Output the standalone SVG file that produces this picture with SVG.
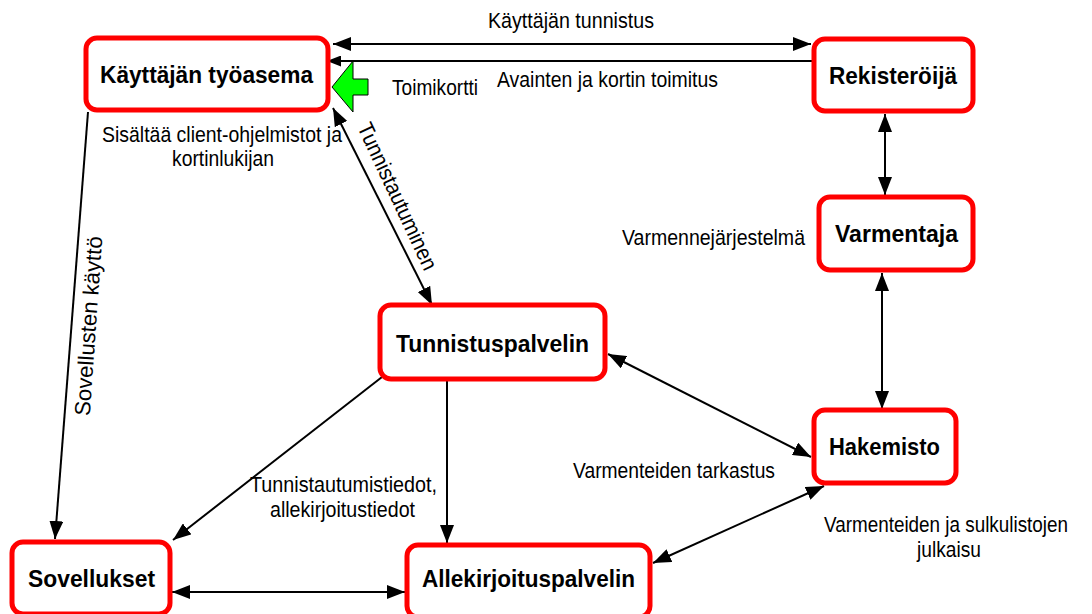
<svg xmlns="http://www.w3.org/2000/svg" width="1092" height="614" viewBox="0 0 1092 614">
<style>
.node rect{fill:#fff;stroke:#ff0000;stroke-width:5}
.node text{font-family:"Liberation Sans",Arial,sans-serif;font-weight:bold;font-size:24px;fill:#000;text-anchor:middle}
.lbl{font-family:"Liberation Sans",Arial,sans-serif;font-size:22px;fill:#000;text-anchor:middle}
.c{stroke:#000;stroke-width:2;fill:none}
</style>
<defs>
<marker id="ah" markerUnits="userSpaceOnUse" markerWidth="18" markerHeight="14" viewBox="0 0 18 14" refX="18" refY="7" orient="auto-start-reverse">
<path d="M0,0 L18,7 L0,14 z" fill="#000"/>
</marker>
<marker id="ahs" markerUnits="userSpaceOnUse" markerWidth="14" markerHeight="11" viewBox="0 0 14 11" refX="14" refY="5.5" orient="auto-start-reverse">
<path d="M0,0 L14,5.5 L0,11 z" fill="#000"/>
</marker>
</defs>
<rect width="1092" height="614" fill="#fff"/>
<g id="connectors">
<line class="c" x1="333" y1="44" x2="811" y2="44" marker-start="url(#ah)" marker-end="url(#ah)"/>
<line class="c" x1="812" y1="61" x2="327" y2="61" marker-end="url(#ahs)"/>
<polygon points="332,87 353,61 353,79 368,79 368,95 353,95 353,112" fill="#00ff00" stroke="#000" stroke-width="1"/>
<line class="c" x1="333" y1="108" x2="432" y2="305" marker-start="url(#ah)" marker-end="url(#ah)"/>
<line class="c" x1="88" y1="112" x2="55" y2="539" marker-end="url(#ah)"/>
<line class="c" x1="382" y1="377" x2="173" y2="540" marker-end="url(#ah)"/>
<line class="c" x1="447" y1="381" x2="447" y2="543" marker-end="url(#ah)"/>
<line class="c" x1="172" y1="592" x2="405" y2="592" marker-start="url(#ah)" marker-end="url(#ah)"/>
<line class="c" x1="608" y1="354" x2="811" y2="457" marker-start="url(#ah)" marker-end="url(#ah)"/>
<line class="c" x1="824" y1="486" x2="653" y2="563" marker-start="url(#ah)" marker-end="url(#ah)"/>
<line class="c" x1="885" y1="114" x2="885" y2="195" marker-start="url(#ah)" marker-end="url(#ah)"/>
<line class="c" x1="882" y1="273" x2="882" y2="409" marker-start="url(#ah)" marker-end="url(#ah)"/>
</g>
<g id="labels">
<text class="lbl" x="571" y="28" textLength="166" lengthAdjust="spacingAndGlyphs">Käyttäjän tunnistus</text>
<text class="lbl" x="607.5" y="87" textLength="221" lengthAdjust="spacingAndGlyphs">Avainten ja kortin toimitus</text>
<text class="lbl" x="435" y="95" textLength="86" lengthAdjust="spacingAndGlyphs">Toimikortti</text>
<text class="lbl" x="222" y="142" textLength="240" lengthAdjust="spacingAndGlyphs">Sisältää client-ohjelmistot ja</text>
<text class="lbl" x="223" y="166" textLength="102" lengthAdjust="spacingAndGlyphs">kortinlukijan</text>
<text class="lbl" x="713.5" y="245" textLength="183" lengthAdjust="spacingAndGlyphs">Varmennejärjestelmä</text>
<text class="lbl" x="343.5" y="492" textLength="187" lengthAdjust="spacingAndGlyphs">Tunnistautumistiedot,</text>
<text class="lbl" x="342.5" y="517" textLength="145" lengthAdjust="spacingAndGlyphs">allekirjoitustiedot</text>
<text class="lbl" x="674" y="478" textLength="202" lengthAdjust="spacingAndGlyphs">Varmenteiden tarkastus</text>
<text class="lbl" x="946" y="532" font-size="20" textLength="244" lengthAdjust="spacingAndGlyphs">Varmenteiden ja sulkulistojen</text>
<text class="lbl" x="949" y="557" textLength="64" lengthAdjust="spacingAndGlyphs">julkaisu</text>
<text class="lbl" transform="translate(398,196) rotate(65)" x="0" y="8" textLength="160" lengthAdjust="spacingAndGlyphs">Tunnistautuminen</text>
<text class="lbl" transform="translate(88,326) rotate(-86)" x="0" y="8" textLength="180" lengthAdjust="spacingAndGlyphs">Sovellusten käyttö</text>
</g>
<g id="kayttajan-tyoasema" class="node">
<rect x="86" y="38" width="242" height="72" rx="11"/>
<text x="206.5" y="83" textLength="213" lengthAdjust="spacingAndGlyphs">Käyttäjän työasema</text>
</g>
<g id="rekisteroija" class="node">
<rect x="814" y="39" width="159" height="72" rx="11"/>
<text x="893" y="84" textLength="128" lengthAdjust="spacingAndGlyphs">Rekisteröijä</text>
</g>
<g id="varmentaja" class="node">
<rect x="819" y="197" width="154" height="73" rx="11"/>
<text x="896.5" y="242" textLength="123" lengthAdjust="spacingAndGlyphs">Varmentaja</text>
</g>
<g id="tunnistuspalvelin" class="node">
<rect x="380" y="305" width="225" height="74" rx="11"/>
<text x="492.5" y="352" textLength="193" lengthAdjust="spacingAndGlyphs">Tunnistuspalvelin</text>
</g>
<g id="hakemisto" class="node">
<rect x="814" y="410" width="142" height="73" rx="11"/>
<text x="884.5" y="455" textLength="111" lengthAdjust="spacingAndGlyphs">Hakemisto</text>
</g>
<g id="sovellukset" class="node">
<rect x="12" y="542" width="158" height="72" rx="11"/>
<text x="91.5" y="587" textLength="127" lengthAdjust="spacingAndGlyphs">Sovellukset</text>
</g>
<g id="allekirjoituspalvelin" class="node">
<rect x="407" y="545" width="243" height="72" rx="11"/>
<text x="528.5" y="587" textLength="213" lengthAdjust="spacingAndGlyphs">Allekirjoituspalvelin</text>
</g>
</svg>
